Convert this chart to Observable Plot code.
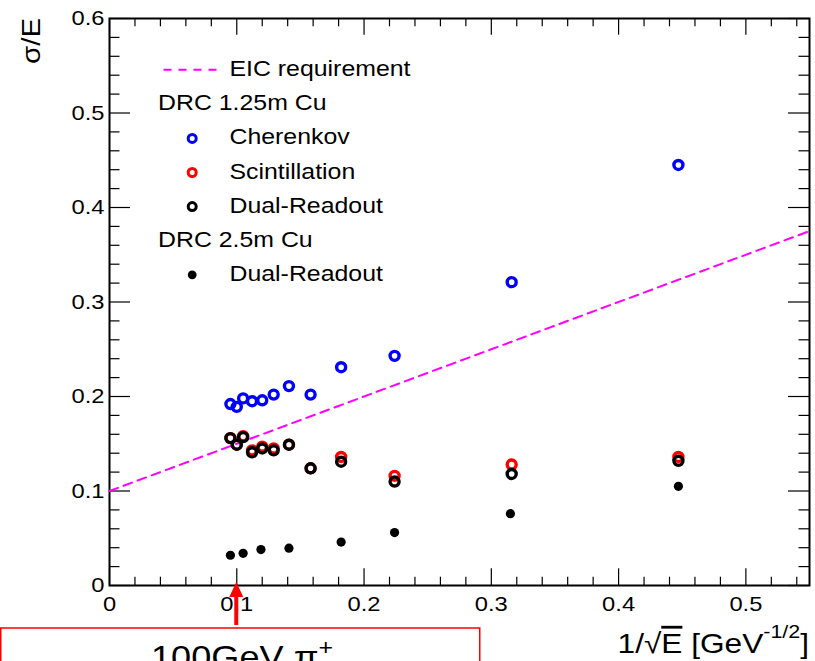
<!DOCTYPE html>
<html>
<head>
<meta charset="utf-8">
<script src="https://cdn.jsdelivr.net/npm/d3@7"></script>
<script src="https://cdn.jsdelivr.net/npm/@observablehq/plot@0.6"></script>
<style>
  html, body { margin: 0; padding: 0; background: #fff; overflow: hidden; }
  #chart { position: relative; width: 815px; height: 661px; overflow: hidden; }
</style>
</head>
<body>
<div id="chart"></div>
<script>
// Energy resolution sigma/E versus 1/sqrt(E) for the dual-readout calorimeter (DRC)

// DRC 1.25m Cu, open markers
const drc125X = [0.095, 0.100, 0.105, 0.112, 0.120, 0.129, 0.141, 0.158, 0.182, 0.224, 0.316, 0.447];
const cherenkovY = [0.192, 0.189, 0.198, 0.195, 0.196, 0.202, 0.211, 0.202, 0.231, 0.243, 0.321, 0.445];
const scintillationY = [0.156, 0.149, 0.158, 0.143, 0.147, 0.145, 0.149, 0.124, 0.136, 0.116, 0.128, 0.136];
const dualReadout125Y = [0.156, 0.149, 0.157, 0.141, 0.145, 0.143, 0.149, 0.124, 0.131, 0.110, 0.118, 0.132];

// DRC 2.5m Cu, filled markers
const drc25X = [0.095, 0.105, 0.119, 0.141, 0.182, 0.224, 0.315, 0.447];
const dualReadout25Y = [0.032, 0.034, 0.038, 0.0395, 0.046, 0.056, 0.076, 0.105];

// EIC requirement: 50%/sqrt(E) + 10%
const eicX = [0, 0.55];
const eicY = [0.1, 0.375];

// Axes
const xDomain = [0, 0.55];
const yDomain = [0, 0.6];
const xTicksMajor = [0, 0.1, 0.2, 0.3, 0.4, 0.5];
const xTickLabels = ["0", "0.1", "0.2", "0.3", "0.4", "0.5"];
const yTicksMajor = [0, 0.1, 0.2, 0.3, 0.4, 0.5, 0.6];
const yTickLabels = ["0", "0.1", "0.2", "0.3", "0.4", "0.5", "0.6"];
const xTicksMinor = d3.range(1, 28).filter(i => i % 5 !== 0).map(i => i * 0.02);
const yTicksMinor = d3.range(1, 30).filter(i => i % 5 !== 0).map(i => i * 0.02);

// Legend
const legendLabels = ["EIC requirement", "DRC 1.25m Cu", "Cherenkov", "Scintillation", "Dual-Readout", "DRC 2.5m Cu", "Dual-Readout"];
const legendKinds = ["dash", "header", "blue", "red", "black", "header", "filled"];

// Annotation
const beamLabel = "100GeV π";
const beamCharge = "+";
const beamX = 0.1;

const W = 815, H = 661;
const mL = 109, mR = 6, mT = 18, mB = 76;
const innerW = W - mL - mR, innerH = H - mT - mB;
const FONT = "'Liberation Sans', Arial, Helvetica, sans-serif";
const STRETCH = 1.13;

const pts = (xs, ys) => xs.map((x, i) => ({x, y: ys[i]}));

const MAGENTA = "#ff00ff", BLUE = "#0000ff", RED = "#ff0000";

const dashSymbol = {
  draw(ctx) { ctx.moveTo(-27, 0); ctx.lineTo(27, 0); }
};

const legendMarks = [];
legendLabels.forEach((label, i) => {
  const kind = legendKinds[i];
  const dy = 50.7 + 34.1 * i;
  legendMarks.push(Plot.text([label], {
    frameAnchor: "top-left", dx: kind === "header" ? 48.5 : 120, dy,
    text: d => d, textAnchor: "start", lineAnchor: "middle", fontSize: 22, fill: "black"
  }));
  if (kind === "dash") {
    legendMarks.push(Plot.dot([0], {frameAnchor: "top-left", dx: 81, dy: dy + 0.5, symbol: dashSymbol,
      stroke: MAGENTA, strokeWidth: 2, strokeDasharray: "8,7", fill: "none"}));
  } else if (kind === "filled") {
    legendMarks.push(Plot.dot([0], {frameAnchor: "top-left", dx: 82.7, dy: dy + 1, r: 4.4, fill: "black", stroke: "none"}));
  } else if (kind !== "header") {
    const c = kind === "blue" ? BLUE : kind === "red" ? RED : "black";
    legendMarks.push(Plot.dot([0], {frameAnchor: "top-left", dx: 82.7, dy: dy + 1, r: 4, stroke: c, strokeWidth: 3, fill: "none"}));
  }
});

const chart = Plot.plot({
  width: W, height: H,
  marginLeft: mL, marginRight: mR, marginTop: mT, marginBottom: mB,
  x: {domain: xDomain},
  y: {domain: yDomain},
  style: {fontFamily: FONT, fontSize: "21px", background: "white", color: "black", overflow: "visible"},
  marks: [
    // inward ticks on all four sides
    Plot.tickX(xTicksMajor, {x: d => d, insetTop: innerH - 16.7, stroke: "black", strokeWidth: 1.2}),
    Plot.tickX(xTicksMinor, {x: d => d, insetTop: innerH - 8.3, stroke: "black", strokeWidth: 1.2}),
    Plot.tickX(xTicksMajor, {x: d => d, insetBottom: innerH - 16.7, stroke: "black", strokeWidth: 1.2}),
    Plot.tickX(xTicksMinor, {x: d => d, insetBottom: innerH - 8.3, stroke: "black", strokeWidth: 1.2}),
    Plot.tickY(yTicksMajor, {y: d => d, insetRight: innerW - 21, stroke: "black", strokeWidth: 1.2}),
    Plot.tickY(yTicksMinor, {y: d => d, insetRight: innerW - 10.5, stroke: "black", strokeWidth: 1.2}),
    Plot.tickY(yTicksMajor, {y: d => d, insetLeft: innerW - 21, stroke: "black", strokeWidth: 1.2}),
    Plot.tickY(yTicksMinor, {y: d => d, insetLeft: innerW - 10.5, stroke: "black", strokeWidth: 1.2}),
    Plot.axisX(xTicksMajor, {anchor: "bottom", tickSize: 0, tickPadding: 11, label: null, fontSize: 21,
      tickFormat: d => xTickLabels[xTicksMajor.indexOf(d)]}),
    Plot.axisY(yTicksMajor, {anchor: "left", tickSize: 0, tickPadding: 5, label: null, fontSize: 21,
      tickFormat: d => yTickLabels[yTicksMajor.indexOf(d)]}),
    Plot.frame({stroke: "black", strokeWidth: 2}),
    // EIC requirement line
    Plot.line(pts(eicX, eicY), {x: "x", y: "y", stroke: MAGENTA, strokeWidth: 2, strokeDasharray: "9,6"}),
    // DRC 1.25m Cu
    Plot.dot(pts(drc125X, cherenkovY), {x: "x", y: "y", r: 4.5, stroke: BLUE, strokeWidth: 3.4, fill: "none"}),
    Plot.dot(pts(drc125X, scintillationY), {x: "x", y: "y", r: 4.5, stroke: RED, strokeWidth: 3.4, fill: "none"}),
    Plot.dot(pts(drc125X, dualReadout125Y), {x: "x", y: "y", r: 4.5, stroke: "black", strokeWidth: 3.4, fill: "none"}),
    // DRC 2.5m Cu
    Plot.dot(pts(drc25X, dualReadout25Y), {x: "x", y: "y", r: 4.6, fill: "black", stroke: "none"}),
    ...legendMarks
  ]
});

// widen glyphs along the baseline, around each text's anchor
chart.querySelectorAll("text").forEach(t => {
  const tr = t.getAttribute("transform");
  if (tr) t.setAttribute("transform", `${tr} scale(${STRETCH},1)`);
});

const svg = d3.select(chart);
const xs = chart.scale("x"), ys = chart.scale("y");

// y-axis title
svg.append("text")
  .attr("transform", `translate(40,18) rotate(-90) scale(${STRETCH},1)`)
  .attr("text-anchor", "end")
  .attr("font-family", FONT).attr("font-size", 26).attr("fill", "black")
  .text("σ/E");

// x-axis title: 1/√E [GeV^-1/2]
const xt = svg.append("text")
  .attr("transform", `translate(809,653) scale(${STRETCH},1)`)
  .attr("text-anchor", "end")
  .attr("font-family", FONT).attr("font-size", 28).attr("fill", "black");
xt.append("tspan").text("1/√");
xt.append("tspan").attr("text-decoration", "overline").style("text-decoration", "overline").text("E");
xt.append("tspan").text(" [GeV");
xt.append("tspan").attr("font-size", 19).attr("dy", -15).text("-1/2");
xt.append("tspan").attr("dy", 15).text("]");

// beam annotation: arrow to 100 GeV and labelled box
const ax = xs.apply(beamX), ay = ys.apply(0);
svg.append("path")
  .attr("d", `M${ax},${ay - 3} L${ax + 7},${ay + 12} L${ax + 2},${ay + 12} L${ax + 2},${ay + 40} L${ax - 2},${ay + 40} L${ax - 2},${ay + 12} L${ax - 7},${ay + 12} Z`)
  .attr("fill", RED);
svg.append("rect")
  .attr("x", 0.75).attr("y", ay + 43).attr("width", 479).attr("height", 80)
  .attr("fill", "none").attr("stroke", RED).attr("stroke-width", 1.5);
const bt = svg.append("text")
  .attr("transform", `translate(151,${ay + 83}) scale(${STRETCH},1)`)
  .attr("text-anchor", "start")
  .attr("font-family", FONT).attr("font-size", 32).attr("fill", "black");
bt.append("tspan").text(beamLabel);
bt.append("tspan").attr("font-size", 22).attr("dy", -13).text(beamCharge);

document.getElementById("chart").appendChild(chart);
</script>
</body>
</html>
